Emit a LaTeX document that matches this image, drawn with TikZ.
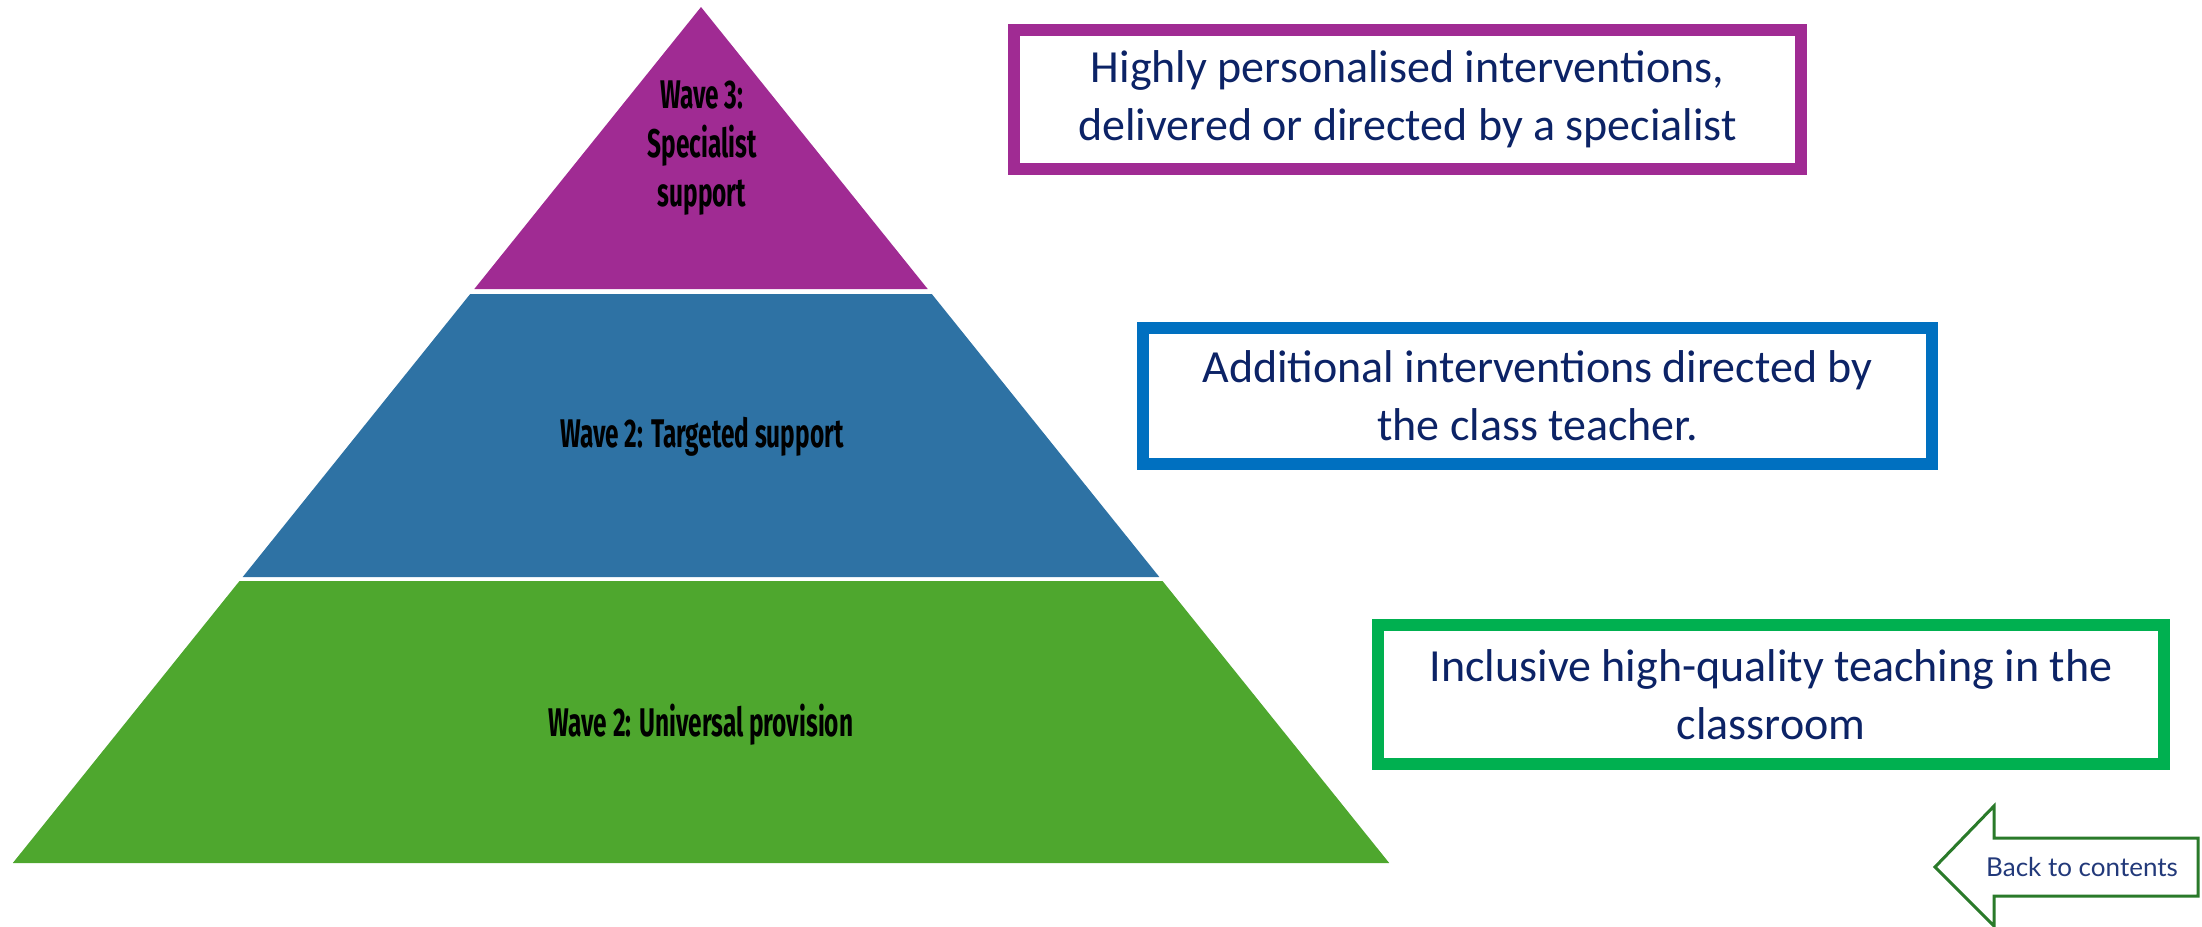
\documentclass[tikz,border=0pt]{standalone}
\usepackage{fontspec}
\setmainfont{Carlito}
\newfontfamily\calib{Carlito}
\newfontfamily\agency[FakeStretch=0.61]{Fira Sans}
\newfontfamily\backfont{Lato}
\definecolor{tpurple}{HTML}{A02B93}
\definecolor{tblue}{HTML}{2E72A4}
\definecolor{tgreen}{HTML}{4EA72E}
\definecolor{bpurple}{HTML}{A02B93}
\definecolor{bblue}{HTML}{0070C0}
\definecolor{bgreen}{HTML}{00B050}
\definecolor{navy}{HTML}{0C2366}
\definecolor{arrowgreen}{HTML}{2A7A2A}
\definecolor{backtext}{HTML}{22397A}
\tikzset{
  tierlabel/.style={text=black, align=center, font=\agency\bfseries\fontsize{40}{49}\selectfont, inner sep=0pt},
  descbox/.style={draw=#1, line width=12pt, fill=white, align=center, text=navy,
    font=\calib\fontsize{46}{58}\selectfont, inner sep=0pt},
}
\begin{document}
\begin{tikzpicture}[x=1pt,y=-1pt]
\useasboundingbox (0,0) rectangle (2202,926);
% pyramid tiers
\fill[tpurple] (701,7) -- (927.7,289) -- (474.3,289) -- cycle;
\fill[tblue] (470.2,294) -- (931.8,294) -- (1159.3,577) -- (242.7,577) -- cycle;
\fill[tgreen] (239.5,581) -- (1162.5,581) -- (1389.2,863) -- (12.8,863) -- cycle;
% tier labels
\node[tierlabel] (w3) at (702,148) {Wave 3:\\Specialist\\support};
\node[tierlabel] (w2t) at (702,437) {Wave 2: Targeted support};
\node[tierlabel] (w2u) at (701,725) {Wave 2: Universal provision};
% description boxes
\node[descbox=bpurple, minimum width=787pt, minimum height=139pt] (d3) at (1407.5,99)
  {Highly personalised interventions,\\delivered or directed by a specialist};
\node[descbox=bblue, minimum width=789pt, minimum height=136pt] (d2) at (1537.5,396)
  {Additional interventions directed by\\the class teacher.};
\node[descbox=bgreen, minimum width=786pt, minimum height=139pt] (d1) at (1771,694.5)
  {Inclusive high-quality teaching in the\\classroom};
% back arrow
\draw[arrowgreen, line width=3pt, line join=miter, fill=white]
  (1935,867) -- (1994,806) -- (1994,838) -- (2198,838) -- (2198,896) -- (1994,896) -- (1994,926) -- cycle;
\node[text=backtext, font=\backfont\fontsize{26}{30}\selectfont, inner sep=0pt] (back) at (2082,867) {Back to contents};
\end{tikzpicture}
\end{document}
